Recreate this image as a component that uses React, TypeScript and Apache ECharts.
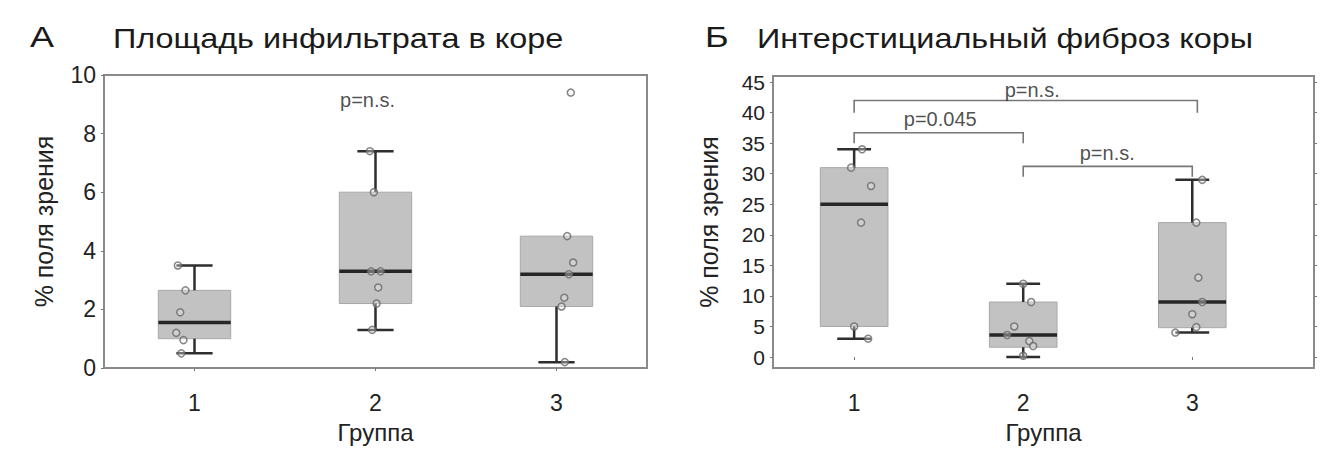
import React, { useEffect, useRef } from "react";
import * as echarts from "echarts";

// ---------- data ----------
const groupLabels = ["1", "2", "3"];
const groupPositions = [1, 2, 3];

// Panel А
const panelLetterA = "А";
const titleA = "Площадь инфильтрата в коре";
const yTicksA = [0, 2, 4, 6, 8, 10];
// [whiskerLow, q1, median, q3, whiskerHigh]
const boxStatsA = [
  [0.5, 1.0, 1.55, 2.65, 3.5],
  [1.3, 2.2, 3.3, 6.0, 7.4],
  [0.2, 2.1, 3.2, 4.5, 4.5],
];
const pointsA1 = [3.5, 2.65, 1.9, 1.2, 0.95, 0.5];
const jitterA1 = [-0.092, -0.05, -0.079, -0.101, -0.061, -0.073];
const pointsA2 = [7.4, 6.0, 3.3, 3.3, 2.75, 2.2, 1.3];
const jitterA2 = [-0.031, -0.009, -0.024, 0.028, 0.015, 0.006, -0.018];
const pointsA3 = [9.4, 4.5, 3.6, 3.2, 2.4, 2.1, 0.2];
const jitterA3 = [0.079, 0.059, 0.092, 0.068, 0.043, 0.028, 0.046];
const pLabelsA = [{ text: "p=n.s.", x: 1.956, y: 9.15 }];

// Panel Б
const panelLetterB = "Б";
const titleB = "Интерстициальный фиброз коры";
const yTicksB = [0, 5, 10, 15, 20, 25, 30, 35, 40, 45];
const boxStatsB = [
  [3, 5, 25, 31, 34],
  [0, 1.6, 3.6, 9, 12],
  [4, 4.8, 9, 22, 29],
];
const pointsB1 = [34, 31, 28, 22, 5, 3];
const jitterB1 = [0.047, -0.018, 0.1, 0.041, 0, 0.083];
const pointsB2 = [12, 9, 5, 3.6, 2.6, 1.8, 0.2];
const jitterB2 = [0, 0.047, -0.053, -0.095, 0.036, 0.059, 0];
const pointsB3 = [29, 22, 13, 9, 7, 4.9, 4];
const jitterB3 = [0.059, 0.024, 0.036, 0.059, 0, 0.024, -0.1];
// [x1, x2, yBar, yLegLeft, yLegRight]
const bracketsB = [
  [1.0, 3.03, 42, 40, 40],
  [1.0, 2.0, 36.7, 35, 35],
  [2.0, 3.0, 31.2, 29.5, 29.5],
];
const pLabelsB = [
  { text: "p=n.s.", x: 2.053, y: 43.7 },
  { text: "p=0.045", x: 1.509, y: 39.0 },
  { text: "p=n.s.", x: 2.497, y: 33.4 },
];

const xName = "Группа";
const yName = "% поля зрения";

// ---------- styles ----------
const FONT = "'Liberation Sans', Arial, sans-serif";
const BOX_HALF = 0.2;
const CAP_HALF = 0.1;
const FRAME = "#8a8a8a";
const DARK = "#2e2e2e";
const TEXT = "#222222";

function renderBox(params: any, api: any) {
  const x = api.value(0);
  const lo = api.value(1);
  const q1 = api.value(2);
  const med = api.value(3);
  const q3 = api.value(4);
  const hi = api.value(5);
  const tl = api.coord([x - BOX_HALF, q3]);
  const br = api.coord([x + BOX_HALF, q1]);
  const children: any[] = [
    {
      type: "rect",
      shape: { x: tl[0], y: tl[1], width: br[0] - tl[0], height: br[1] - tl[1] },
      style: { fill: "#c2c2c2", stroke: "#a8a8a8", lineWidth: 1 },
    },
  ];
  const wl = { stroke: DARK, lineWidth: 2.5 };
  if (hi > q3) {
    const a = api.coord([x, q3]);
    const b = api.coord([x, hi]);
    const c1 = api.coord([x - CAP_HALF, hi]);
    const c2 = api.coord([x + CAP_HALF, hi]);
    children.push({ type: "line", shape: { x1: a[0], y1: a[1], x2: b[0], y2: b[1] }, style: wl });
    children.push({ type: "line", shape: { x1: c1[0], y1: c1[1], x2: c2[0], y2: c2[1] }, style: wl });
  }
  if (lo < q1) {
    const a = api.coord([x, q1]);
    const b = api.coord([x, lo]);
    const c1 = api.coord([x - CAP_HALF, lo]);
    const c2 = api.coord([x + CAP_HALF, lo]);
    children.push({ type: "line", shape: { x1: a[0], y1: a[1], x2: b[0], y2: b[1] }, style: wl });
    children.push({ type: "line", shape: { x1: c1[0], y1: c1[1], x2: c2[0], y2: c2[1] }, style: wl });
  }
  const m1 = api.coord([x - BOX_HALF, med]);
  const m2 = api.coord([x + BOX_HALF, med]);
  children.push({
    type: "line",
    shape: { x1: m1[0], y1: m1[1], x2: m2[0], y2: m2[1] },
    style: { stroke: "#262626", lineWidth: 3.5 },
  });
  return { type: "group", children };
}

function renderBracket(params: any, api: any) {
  const x1 = api.value(0);
  const x2 = api.value(1);
  const yb = api.value(2);
  const yl = api.value(3);
  const yr = api.value(4);
  const pts = [api.coord([x1, yl]), api.coord([x1, yb]), api.coord([x2, yb]), api.coord([x2, yr])];
  return {
    type: "polyline",
    shape: { points: pts },
    style: { stroke: "#777777", lineWidth: 1.6, fill: "none" },
  };
}

function boxData(stats: number[][]) {
  return stats.map((s, i) => [groupPositions[i], ...s]);
}

function pointData(groups: number[][], jitters: number[][]) {
  const out: number[][] = [];
  groups.forEach((vals, gi) => {
    vals.forEach((v, i) => out.push([groupPositions[gi] + jitters[gi][i], v]));
  });
  return out;
}

function labelFormatter(v: number) {
  const i = groupPositions.indexOf(Math.round(v * 1000) / 1000);
  return i >= 0 ? groupLabels[i] : "";
}

function xAxisFor(gridIndex: number, min: number, max: number) {
  return {
    type: "value",
    gridIndex,
    min,
    max,
    axisLine: { show: false },
    splitLine: { show: false },
    axisTick: { show: true, length: 3, customValues: groupPositions, lineStyle: { color: "#777", width: 1 } },
    axisLabel: {
      customValues: groupPositions,
      formatter: labelFormatter,
      fontFamily: FONT,
      fontSize: 23,
      color: TEXT,
      margin: 23,
    },
    name: xName,
    nameLocation: "middle",
    nameGap: 52,
    nameTextStyle: { fontFamily: FONT, fontSize: 24, color: TEXT },
  };
}

function yAxisFor(gridIndex: number, min: number, max: number, ticks: number[], fontSize: number, nameGap: number) {
  return {
    type: "value",
    gridIndex,
    min,
    max,
    axisLine: { show: false },
    splitLine: { show: false },
    axisTick: { show: true, length: 3, customValues: ticks, lineStyle: { color: "#777", width: 1 } },
    axisLabel: {
      customValues: ticks,
      fontFamily: FONT,
      fontSize,
      color: TEXT,
      margin: 8,
    },
    name: yName,
    nameLocation: "middle",
    nameGap,
    nameTextStyle: { fontFamily: FONT, fontSize: 25, color: TEXT },
  };
}

function textEl(text: string, x: number, y: number, size: number, scaleX: number) {
  return {
    type: "text",
    x,
    y,
    scaleX,
    style: {
      text,
      font: `${size}px ${FONT}`,
      fill: "#1a1a1a",
      textAlign: "left",
      textVerticalAlign: "middle",
      align: "left",
      verticalAlign: "middle",
    },
  };
}

const pointStyle = {
  color: "rgba(235,235,235,0.45)",
  borderColor: "#666666",
  borderWidth: 1.5,
};

const pLabelStyle = {
  show: true,
  position: "inside",
  formatter: "{b}",
  fontFamily: FONT,
  fontSize: 20,
  color: TEXT,
};

const option: any = {
  animation: false,
  backgroundColor: "#ffffff",
  grid: [
    { left: 104, top: 75, width: 543, height: 294, show: true, borderColor: FRAME, borderWidth: 2, backgroundColor: "transparent" },
    { left: 773, top: 76, width: 541, height: 293, show: true, borderColor: FRAME, borderWidth: 2, backgroundColor: "transparent" },
  ],
  xAxis: [xAxisFor(0, 0.5, 3.5), xAxisFor(1, 0.52, 3.72)],
  yAxis: [
    yAxisFor(0, 0, 10, yTicksA, 23, 48),
    yAxisFor(1, -1.8, 46, yTicksB, 21, 52),
    {
      type: "value",
      gridIndex: 1,
      position: "right",
      min: -1.8,
      max: 46,
      axisLine: { show: false },
      splitLine: { show: false },
      axisLabel: { show: false },
      axisTick: { show: true, length: 3, customValues: yTicksB, lineStyle: { color: "#777", width: 1 } },
    },
  ],
  graphic: [
    textEl(panelLetterA, 30, 37, 30, 1.2),
    textEl(titleA, 113, 38, 27, 1.2),
    textEl(panelLetterB, 705, 37, 30, 1.2),
    textEl(titleB, 757, 38, 27, 1.2),
  ],
  series: [
    {
      type: "custom",
      xAxisIndex: 0,
      yAxisIndex: 0,
      renderItem: renderBox,
      data: boxData(boxStatsA),
      encode: { x: 0, y: [1, 2, 3, 4, 5] },
      z: 2,
    },
    {
      type: "scatter",
      xAxisIndex: 0,
      yAxisIndex: 0,
      symbol: "circle",
      symbolSize: 7,
      itemStyle: pointStyle,
      data: pointData([pointsA1, pointsA2, pointsA3], [jitterA1, jitterA2, jitterA3]),
      z: 5,
    },
    {
      type: "scatter",
      xAxisIndex: 0,
      yAxisIndex: 0,
      symbolSize: 1,
      itemStyle: { color: "transparent" },
      label: pLabelStyle,
      data: pLabelsA.map((p) => ({ name: p.text, value: [p.x, p.y] })),
      z: 6,
    },
    {
      type: "custom",
      xAxisIndex: 1,
      yAxisIndex: 1,
      renderItem: renderBox,
      data: boxData(boxStatsB),
      encode: { x: 0, y: [1, 2, 3, 4, 5] },
      z: 2,
    },
    {
      type: "custom",
      xAxisIndex: 1,
      yAxisIndex: 1,
      renderItem: renderBracket,
      data: bracketsB,
      encode: { x: [0, 1], y: [2, 3, 4] },
      z: 3,
    },
    {
      type: "scatter",
      xAxisIndex: 1,
      yAxisIndex: 1,
      symbol: "circle",
      symbolSize: 7,
      itemStyle: pointStyle,
      data: pointData([pointsB1, pointsB2, pointsB3], [jitterB1, jitterB2, jitterB3]),
      z: 5,
    },
    {
      type: "scatter",
      xAxisIndex: 1,
      yAxisIndex: 1,
      symbolSize: 1,
      itemStyle: { color: "transparent" },
      label: pLabelStyle,
      data: pLabelsB.map((p) => ({ name: p.text, value: [p.x, p.y] })),
      z: 6,
    },
  ],
};

export default function App() {
  const ref = useRef<HTMLDivElement>(null);
  useEffect(() => {
    document.body.style.margin = "0";
    const chart = echarts.init(ref.current!, null, { renderer: "svg" });
    chart.setOption(option);
    return () => chart.dispose();
  }, []);
  return <div ref={ref} style={{ width: 1325, height: 449 }} />;
}
